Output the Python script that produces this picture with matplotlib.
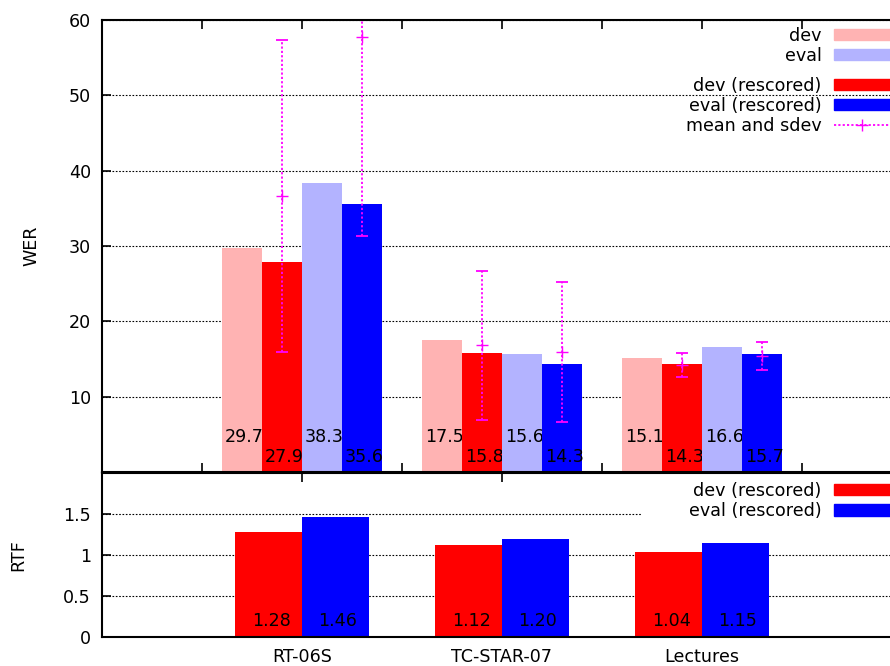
import numpy as np
import matplotlib.pyplot as plt
from matplotlib.lines import Line2D
from matplotlib.patches import Rectangle

plt.rcParams['font.family'] = 'DejaVu Sans'
plt.rcParams['font.size'] = 12.6

# data
datasets = ['RT-06S', 'TC-STAR-07', 'Lectures']
wer_dev = [29.7, 17.5, 15.1]
wer_dev_resc = [27.9, 15.8, 14.3]
wer_eval = [38.3, 15.6, 16.6]
wer_eval_resc = [35.6, 14.3, 15.7]
dev_mean = [36.6, 16.8, 14.2]
dev_sdev = [20.7, 9.9, 1.6]
eval_mean = [57.8, 15.9, 15.4]
eval_sdev = [26.5, 9.3, 1.9]
rtf_dev = [1.28, 1.12, 1.04]
rtf_eval = [1.46, 1.20, 1.15]

c_dev = '#ffb3b3'
c_eval = '#b3b3ff'
c_dev_r = '#ff0000'
c_eval_r = '#0000ff'
c_err = '#ff00ff'

x = np.arange(1, len(datasets) + 1)

fig = plt.figure(figsize=(8.9, 6.66), dpi=100)
W, H = 890, 666
ax1 = fig.add_axes([102 / W, (H - 472) / H, 800 / W, 452 / H])
ax2 = fig.add_axes([102 / W, (H - 637) / H, 800 / W, 164 / H])

grid_style = dict(color='black', linewidth=0.8, linestyle=(0, (1.5, 1.5)))

# ---- WER panel
ax1.set_axisbelow(True)
series = [(wer_dev, c_dev, -0.3, 4.7), (wer_dev_resc, c_dev_r, -0.1, 2.0),
          (wer_eval, c_eval, 0.1, 4.7), (wer_eval_resc, c_eval_r, 0.3, 2.0)]
for i, (vals, col, off, ly) in enumerate(series):
    z = 1 + i * 0.1
    ax1.bar(x + off, vals, width=0.2, color=col, zorder=z, linewidth=0)
    for xi, v in zip(x + off, vals):
        ax1.text(xi + 0.012, ly, '%.1f' % v, ha='center', va='center',
                 zorder=z + 0.05)

for xs, m, s in [(x - 0.1, dev_mean, dev_sdev), (x + 0.3, eval_mean, eval_sdev)]:
    eb = ax1.errorbar(xs, m, yerr=s, fmt='+', color=c_err, markersize=9,
                      elinewidth=1.3, capsize=4, capthick=1.3, zorder=5)
    eb[2][0].set_linestyle((0, (1.2, 1.2)))

ax1.set_xlim(0, 4)
ax1.set_ylim(0, 60)
ax1.set_yticks([10, 20, 30, 40, 50, 60])
ax1.set_xticks(np.arange(0, 4.01, 0.5))
ax1.set_xticklabels([])
ax1.yaxis.grid(True, **grid_style)
ax1.tick_params(direction='in', length=6.5, width=1.2, top=True, right=True,
                pad=8)
ax1.set_ylabel('WER', labelpad=20)

h1 = [Rectangle((0, 0), 1, 1, color=c_dev), Rectangle((0, 0), 1, 1, color=c_eval)]
h2 = [Rectangle((0, 0), 1, 1, color=c_dev_r), Rectangle((0, 0), 1, 1, color=c_eval_r),
      Line2D([], [], color=c_err, ls=(0, (1.2, 1.2)), lw=1.3, marker='+',
             markersize=9)]
leg_kw = dict(loc='upper right', frameon=False, markerfirst=False,
              handlelength=3.2, handleheight=0.6, handletextpad=0.7,
              borderpad=0, borderaxespad=0, labelspacing=0.12)
leg1 = ax1.legend(h1, ['dev', 'eval'], bbox_to_anchor=(0.985, 0.985), **leg_kw)
ax1.add_artist(leg1)
leg2 = ax1.legend(h2, ['dev (rescored)', 'eval (rescored)', 'mean and sdev'],
                  bbox_to_anchor=(0.985, 0.874), **leg_kw)
for leg in (leg1, leg2):
    for t in leg.get_texts():
        t.set_ha('right')

# ---- RTF panel
ax2.set_axisbelow(True)
ax2.bar(x - 1 / 6, rtf_dev, width=1 / 3, color=c_dev_r, zorder=1, linewidth=0)
ax2.bar(x + 1 / 6, rtf_eval, width=1 / 3, color=c_eval_r, zorder=1.1, linewidth=0)
for xi, v in zip(x - 1 / 6, rtf_dev):
    ax2.text(xi + 0.012, 0.19, '%.2f' % v, ha='center', va='center', zorder=2)
for xi, v in zip(x + 1 / 6, rtf_eval):
    ax2.text(xi + 0.012, 0.19, '%.2f' % v, ha='center', va='center', zorder=2)

ax2.add_patch(Rectangle((2.7, 1.38), 1.5, 0.7, facecolor='white',
                        edgecolor='none', zorder=0.8))
ax2.set_xlim(0, 4)
ax2.set_ylim(0, 2)
ax2.set_yticks([0, 0.5, 1, 1.5])
ax2.set_yticklabels(['0', '0.5', '1', '1.5'])
ax2.set_xticks(x)
ax2.set_xticklabels(datasets)
ax2.yaxis.grid(True, **grid_style)
ax2.tick_params(direction='in', length=6.5, width=1.2, top=True, right=True,
                pad=8)
ax2.set_ylabel('RTF', labelpad=26)
leg3 = ax2.legend([Rectangle((0, 0), 1, 1, color=c_dev_r),
                   Rectangle((0, 0), 1, 1, color=c_eval_r)],
                  ['dev (rescored)', 'eval (rescored)'],
                  bbox_to_anchor=(0.985, 0.945), **leg_kw)
leg3.set_zorder(3)

for ax in (ax1, ax2):
    for sp in ax.spines.values():
        sp.set_linewidth(1.5)

fig.savefig('out.png', dpi=100)
